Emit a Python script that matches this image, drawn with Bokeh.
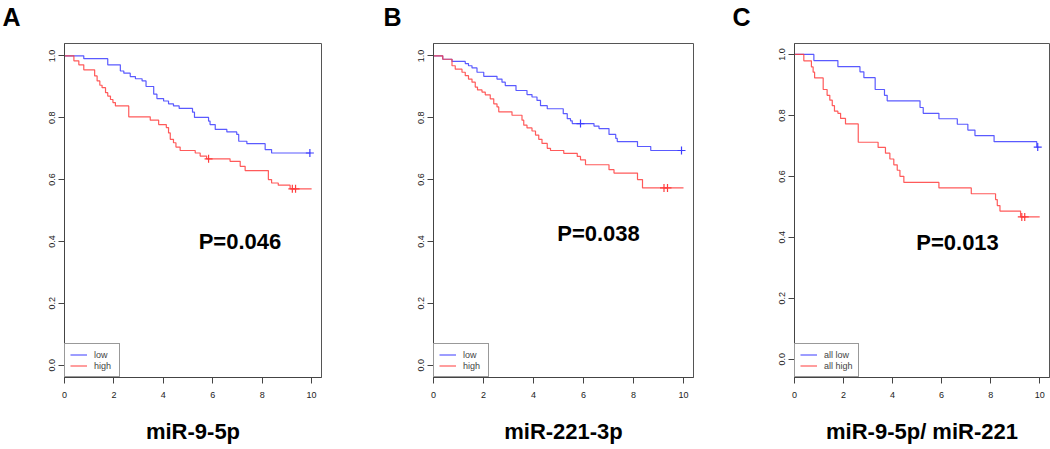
import numpy as np
from bokeh.plotting import figure
from bokeh.layouts import row
from bokeh.models import Range1d, FixedTicker, PrintfTickFormatter, Title
from bokeh.core.properties import value
from bokeh.embed import file_html
from bokeh.resources import INLINE

FONT = "Liberation Sans"
BLUE = "#3d3dff"
RED = "#ff3d3d"

# ---------------- data ----------------
# Panel A : miR-9-5p
A_low_times = [0.78, 1.75, 2.26, 2.40, 2.66, 2.87, 3.14, 3.30, 3.61, 3.74, 4.01, 4.21, 4.41,
               4.64, 5.18, 5.26, 5.83, 5.89, 6.10, 6.57, 6.97, 7.05, 7.38, 8.12, 8.38]
A_low_surv = [0.991, 0.971, 0.951, 0.944, 0.933, 0.926, 0.919, 0.901, 0.876, 0.862, 0.854, 0.845,
              0.838, 0.830, 0.818, 0.801, 0.789, 0.778, 0.762, 0.754, 0.746, 0.724, 0.716, 0.697, 0.686]
A_low_end = 9.95
A_low_censor = [9.93]
A_high_times = [0.38, 0.58, 0.78, 1.22, 1.32, 1.43, 1.52, 1.66, 1.75, 1.86, 1.96, 2.06, 2.60, 3.47,
                3.81, 4.12, 4.21, 4.28, 4.41, 4.51, 4.68, 5.29, 5.49, 5.75, 6.70, 7.11, 7.31, 8.25,
                8.38, 8.65, 9.13]
A_high_surv = [0.984, 0.971, 0.955, 0.935, 0.919, 0.905, 0.897, 0.881, 0.870, 0.859, 0.849, 0.838,
               0.803, 0.792, 0.778, 0.768, 0.751, 0.730, 0.719, 0.705, 0.694, 0.686, 0.676, 0.667,
               0.659, 0.643, 0.629, 0.600, 0.589, 0.582, 0.570]
A_high_end = 10.0
A_high_censor = [5.83, 9.22, 9.35]

# Panel B : miR-221-3p
B_low_times = [0.37, 0.74, 1.27, 1.40, 1.54, 1.74, 2.01, 2.54, 2.74, 2.87, 3.30, 3.74, 3.94, 4.14,
               4.28, 4.55, 5.19, 5.35, 5.48, 5.55, 6.42, 6.62, 7.02, 7.29, 7.35, 8.16, 8.69]
B_low_surv = [0.989, 0.982, 0.975, 0.968, 0.961, 0.947, 0.934, 0.925, 0.915, 0.904, 0.888, 0.875,
              0.867, 0.856, 0.839, 0.829, 0.813, 0.797, 0.790, 0.781, 0.773, 0.765, 0.746, 0.733,
              0.723, 0.707, 0.694]
B_low_end = 9.95
B_low_censor = [5.88, 9.92]
B_high_times = [0.37, 0.74, 0.87, 1.14, 1.27, 1.40, 1.54, 1.67, 1.76, 1.94, 2.07, 2.27, 2.41, 2.54,
                2.61, 3.14, 3.54, 3.61, 3.74, 3.94, 4.08, 4.21, 4.34, 4.55, 4.68, 5.21, 5.75, 5.88,
                6.08, 7.02, 7.22, 8.16, 8.36]
B_high_surv = [0.989, 0.968, 0.957, 0.947, 0.936, 0.925, 0.915, 0.899, 0.890, 0.883, 0.874, 0.861,
               0.845, 0.835, 0.819, 0.808, 0.792, 0.776, 0.767, 0.757, 0.744, 0.730, 0.717, 0.701,
               0.694, 0.685, 0.675, 0.664, 0.648, 0.632, 0.621, 0.600, 0.573]
B_high_end = 10.0
B_high_censor = [9.22, 9.36]

# Panel C : miR-9-5p / miR-221
C_low_times = [0.79, 1.77, 2.67, 2.83, 3.29, 3.67, 3.78, 5.12, 5.25, 5.89, 6.64, 7.07, 7.36, 8.14, 9.88]
C_low_surv = [0.980, 0.960, 0.943, 0.924, 0.885, 0.866, 0.848, 0.826, 0.807, 0.789, 0.771, 0.752,
              0.734, 0.714, 0.696]
C_low_end = 9.95
C_low_censor = [9.92]
C_high_times = [0.38, 0.69, 0.76, 0.82, 1.17, 1.33, 1.44, 1.54, 1.63, 1.77, 1.88, 2.08, 2.60, 3.41,
                3.71, 3.89, 4.05, 4.19, 4.30, 4.46, 5.89, 7.21, 8.20, 8.27, 8.38, 9.22]
C_high_surv = [0.979, 0.959, 0.942, 0.923, 0.885, 0.866, 0.850, 0.832, 0.814, 0.807, 0.790, 0.772,
               0.712, 0.695, 0.676, 0.657, 0.638, 0.620, 0.600, 0.580, 0.562, 0.543, 0.524, 0.504,
               0.486, 0.467]
C_high_end = 10.0
C_high_censor = [9.27, 9.39]

x_ticks = [0, 2, 4, 6, 8, 10]
y_ticks = [0.0, 0.2, 0.4, 0.6, 0.8, 1.0]
letters = ["A", "B", "C"]
titles = ["miR-9-5p", "miR-221-3p", "miR-9-5p/ miR-221"]
p_values = ["P=0.046", "P=0.038", "P=0.013"]
legend_labels = [("low", "high"), ("low", "high"), ("all low", "all high")]


def km_xy(times, surv, end):
    xs = [0.0] + list(times) + [end]
    ys = [1.0] + list(surv) + [surv[-1]]
    return xs, ys


def surv_at(times, surv, t):
    idx = np.searchsorted(np.asarray(times), t, side="right")
    return 1.0 if idx == 0 else surv[idx - 1]


def make_panel(letter, title, ptxt, ppos, low, high, labels, width, left, right,
               yr, letter_offset):
    p = figure(width=width, height=449, x_range=Range1d(0, 10.4), y_range=Range1d(*yr),
               min_border_left=left, min_border_right=right, min_border_top=43,
               min_border_bottom=72, output_backend="svg", toolbar_location=None,
               title=None)
    p.grid.visible = False
    p.outline_line_color = "#555555"
    p.outline_line_width = 1
    p.background_fill_color = "white"
    p.border_fill_color = "white"

    for ax in (p.xaxis[0], p.yaxis[0]):
        ax.axis_line_color = "#444444"
        ax.major_tick_line_color = "#444444"
        ax.major_tick_out = 6
        ax.major_tick_in = 0
        ax.minor_tick_line_color = None
        ax.major_label_text_font = FONT
        ax.major_label_text_font_size = "9px"
        ax.major_label_text_color = "#222222"
    p.xaxis.ticker = FixedTicker(ticks=x_ticks)
    p.yaxis.ticker = FixedTicker(ticks=y_ticks)
    p.yaxis.formatter = PrintfTickFormatter(format="%.1f")
    p.yaxis.major_label_orientation = "vertical"
    p.xaxis.major_label_standoff = 8
    p.yaxis.major_label_standoff = 3

    # caption under the plot, as the x-axis label
    p.xaxis.axis_label = title
    p.xaxis.axis_label_text_font = FONT
    p.xaxis.axis_label_text_font_size = "22px"
    p.xaxis.axis_label_text_font_style = "bold"
    p.xaxis.axis_label_text_color = "black"
    p.xaxis.axis_label_standoff = 18

    for (times, surv, end, cens), color, lab in zip((low, high), (BLUE, RED), labels):
        xs, ys = km_xy(times, surv, end)
        p.step(xs, ys, mode="after", line_color=color, line_width=1.2, line_alpha=0.85,
               legend_label=lab)
        cy = [surv_at(times, surv, t) for t in cens]
        p.scatter(cens, cy, marker="cross", size=8, line_color=color, line_width=1.2)

    p.text(x=[ppos[0]], y=[ppos[1]], text=[ptxt], text_font=value(FONT),
           text_font_style="bold", text_font_size="22px", text_align="center",
           text_baseline="middle", text_color="black")

    lg = p.legend[0]
    lg.location = "bottom_left"
    lg.margin = 0
    lg.padding = 5
    lg.spacing = 0
    lg.glyph_width = 17
    lg.glyph_height = 11
    lg.label_height = 11
    lg.label_standoff = 7
    lg.label_text_font = FONT
    lg.label_text_font_size = "9px"
    lg.border_line_color = "#333333"
    lg.border_line_width = 1
    lg.background_fill_alpha = 1.0

    # spacer between frame and panel letter, then the letter itself
    p.add_layout(Title(text=" ", text_font_size="8px", standoff=2), "above")
    p.add_layout(Title(text=letter, align="left", offset=letter_offset, text_font=FONT,
                       text_font_size="25px", text_font_style="bold", text_color="black",
                       standoff=0), "above")
    return p


pA = make_panel(letters[0], titles[0], p_values[0], (7.1, 0.40),
                (A_low_times, A_low_surv, A_low_end, A_low_censor),
                (A_high_times, A_high_surv, A_high_end, A_high_censor),
                legend_labels[0], 376, 64, 55, (-0.04, 1.04), -62)
pB = make_panel(letters[1], titles[1], p_values[1], (6.6, 0.426),
                (B_low_times, B_low_surv, B_low_end, B_low_censor),
                (B_high_times, B_high_surv, B_high_end, B_high_censor),
                legend_labels[1], 354, 57, 37, (-0.04, 1.04), -50)
pC = make_panel(letters[2], titles[2], p_values[2], (6.65, 0.383),
                (C_low_times, C_low_surv, C_low_end, C_low_censor),
                (C_high_times, C_high_surv, C_high_end, C_high_censor),
                legend_labels[2], 320, 64, 1, (-0.06, 1.036), -62)

layout = row(pA, pB, pC)
open("out.html", "w").write(file_html(layout, INLINE))
